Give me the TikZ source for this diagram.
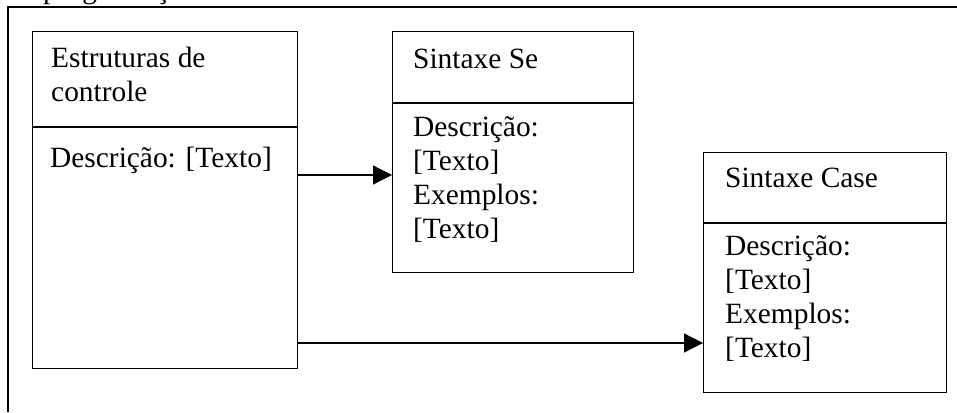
\documentclass[tikz,border=0pt]{standalone}
\usepackage{fontspec}
\setmainfont{Liberation Serif}
\usetikzlibrary{arrows.meta}
\begin{document}
\begin{tikzpicture}[x=1pt,y=-1pt,
  frame/.style={line width=1.2pt},
  boxshape/.style={draw,line width=1.2pt,inner sep=0pt,anchor=north west},
  label/.style={anchor=base west,inner sep=0pt,align=left,
    font=\fontsize{29.4}{33.8}\selectfont},
  link/.style={line width=1.2pt,-{Triangle[length=19pt,width=19pt]}}]
  \useasboundingbox (0,0) rectangle (957,412);
  \begin{scope}
    \clip (0,0) rectangle (957,412);
    % heading above the frame, cut off by the page edge
    \node[label] (heading) at (43,-1) {programação};
  \end{scope}

  % outer frame (only top and left edges fall inside the page)
  \coordinate (fbl) at (8,412);
  \coordinate (ftl) at (8,7);
  \coordinate (ftr) at (957,7);
  \draw[frame] (fbl) -- (ftl) -- (ftr);

  % class boxes
  \node[boxshape,minimum width=265pt,minimum height=337pt] (ctl) at (32,31) {};
  \node[boxshape,minimum width=241pt,minimum height=241pt] (se) at (392,31) {};
  \node[boxshape,minimum width=243pt,minimum height=240pt] (cs) at (703,152) {};

  % compartment dividers
  \draw[frame] (ctl.west |- 0,127) -- (ctl.east |- 0,127);
  \draw[frame] (se.west |- 0,103) -- (se.east |- 0,103);
  \draw[frame] (cs.west |- 0,223) -- (cs.east |- 0,223);

  % box texts (a multi-line node sits on the baseline of its last line)
  \node[label] (ctltitle) at (51,101) {Estruturas de\\controle};
  \node[label] (ctlbody) at (50,167) {Descrição: [Texto]};
  \node[label] (setitle) at (413,68) {Sintaxe Se};
  \node[label] (sebody) at (413,238) {Descrição:\\{}[Texto]\\Exemplos:\\{}[Texto]};
  \node[label] (cstitle) at (725,187) {Sintaxe Case};
  \node[label] (csbody) at (725,357) {Descrição:\\{}[Texto]\\Exemplos:\\{}[Texto]};

  % connectors
  \draw[link] (ctl.east |- 0,175) -- (se.west |- 0,175);
  \draw[link] (ctl.east |- 0,343) -- (cs.west |- 0,343);
\end{tikzpicture}
\end{document}
